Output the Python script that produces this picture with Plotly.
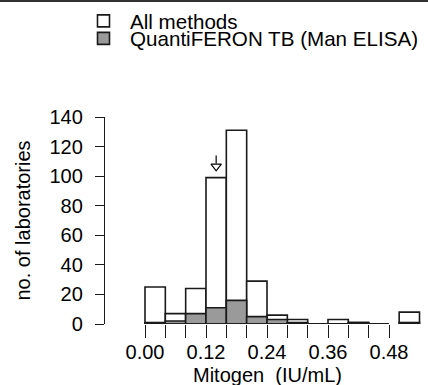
import plotly.graph_objects as go

# ---- data ----
bin_starts = [0.00, 0.04, 0.08, 0.12, 0.16, 0.20, 0.24, 0.28, 0.32, 0.36, 0.40, 0.44, 0.50]
bin_width = 0.04
all_methods = [25, 7, 24, 99, 131, 29, 6, 3, 0, 3, 1, 0, 8]
quantiferon = [1, 2, 7, 11, 16, 5, 3, 1, 0, 0, 1, 0, 1]
x_tick_vals = [0.00, 0.04, 0.08, 0.12, 0.16, 0.20, 0.24, 0.28, 0.32, 0.36, 0.40, 0.44, 0.48]
x_tick_labels = ["0.00", "", "", "0.12", "", "", "0.24", "", "", "0.36", "", "", "0.48"]
y_tick_vals = [0, 20, 40, 60, 80, 100, 120, 140]
arrow_x = 0.14  # marked value (bin with arrow)

FONT = "Liberation Sans, Arial, Helvetica, sans-serif"
FS = 20
W, H = 428, 385

centers = [s + bin_width / 2 for s in bin_starts]

fig = go.Figure()
fig.add_trace(go.Bar(
    x=centers, y=all_methods, width=bin_width,
    marker=dict(color="white", line=dict(color="#1a1a1a", width=1.6)),
    name="All methods", legend="legend", cliponaxis=False,
))
fig.add_trace(go.Bar(
    x=centers, y=quantiferon, width=bin_width,
    marker=dict(color="#9a9a9a", line=dict(color="#1a1a1a", width=1.6)),
    name="QuantiFERON TB (Man ELISA)", legend="legend2", cliponaxis=False,
))
# baseline under the histogram bins
fig.add_trace(go.Scatter(
    x=[x_tick_vals[0], x_tick_vals[-1]], y=[0, 0], mode="lines",
    line=dict(color="#1a1a1a", width=1.6), showlegend=False, cliponaxis=False,
    hoverinfo="skip",
))
# arrow marker above the marked bin
i_arrow = min(range(len(centers)), key=lambda i: abs(centers[i] - arrow_x))
top = all_methods[i_arrow]
fig.add_trace(go.Scatter(
    x=[arrow_x, arrow_x], y=[top + 15, top + 9.5], mode="lines",
    line=dict(color="black", width=1.2), showlegend=False, hoverinfo="skip",
))
fig.add_trace(go.Scatter(
    x=[arrow_x], y=[top + 7.6], mode="markers",
    marker=dict(symbol="triangle-down-open", size=9, color="black", line=dict(width=1.2)),
    showlegend=False, hoverinfo="skip",
))

px0 = 145.0
scale = (389.0 - 145.0) / 0.48
left_px, right_px = 105.0, 428.0
x_range = [(left_px - px0) / scale, (right_px - px0) / scale]
top_px, bot_px = 117.0, 324.0
LEG_FS = 20.6

fig.update_layout(
    template="none",
    width=W, height=H,
    margin=dict(l=0, r=0, t=0, b=0, pad=0, autoexpand=False),
    paper_bgcolor="white", plot_bgcolor="white",
    barmode="overlay",
    font=dict(family=FONT, size=FS, color="black"),
    xaxis=dict(
        domain=[left_px / W, right_px / W], range=x_range, automargin=False,
        showgrid=False, zeroline=False, showline=False,
        ticks="outside", ticklen=13, tickwidth=1.3, tickcolor="#1a1a1a",
        tickvals=x_tick_vals, ticktext=x_tick_labels,
        tickfont=dict(family=FONT, size=FS, color="black"),
        ticklabelstandoff=-3,
    ),
    yaxis=dict(
        domain=[(H - bot_px) / H, (H - top_px) / H], range=[0, 140], automargin=False,
        showgrid=False, zeroline=False, showline=True, linecolor="#1a1a1a", linewidth=1.3,
        ticks="outside", ticklen=9, tickwidth=1.3, tickcolor="#1a1a1a",
        tickvals=y_tick_vals,
        tickfont=dict(family=FONT, size=FS, color="black"),
        ticklabelstandoff=8,
    ),
    legend=dict(
        x=77 / W, y=1 - 1 / H, xanchor="left", yanchor="top",
        bgcolor="rgba(0,0,0,0)", borderwidth=0, itemwidth=43,
        font=dict(family=FONT, size=LEG_FS, color="black"),
    ),
    legend2=dict(
        x=77 / W, y=1 - 18.5 / H, xanchor="left", yanchor="top",
        bgcolor="rgba(0,0,0,0)", borderwidth=0, itemwidth=43,
        font=dict(family=FONT, size=LEG_FS, color="black"),
    ),
    shapes=[dict(type="line", xref="paper", yref="paper", x0=0, x1=1,
                 y0=1 - 1 / H, y1=1 - 1 / H, line=dict(color="#333333", width=2))],
    annotations=[
        dict(text="Mitogen\u00a0 (IU/mL)", xref="x", yref="paper",
             x=0.24, y=(H - 374.5) / H, showarrow=False,
             xanchor="center", yanchor="middle",
             font=dict(family=FONT, size=FS, color="black")),
        dict(text="no. of laboratories", xref="paper", yref="paper",
             x=22 / W, y=(H - 220.5) / H, showarrow=False, textangle=-90,
             xanchor="center", yanchor="middle",
             font=dict(family=FONT, size=FS, color="black")),
    ],
)

fig.write_html("out.html")
